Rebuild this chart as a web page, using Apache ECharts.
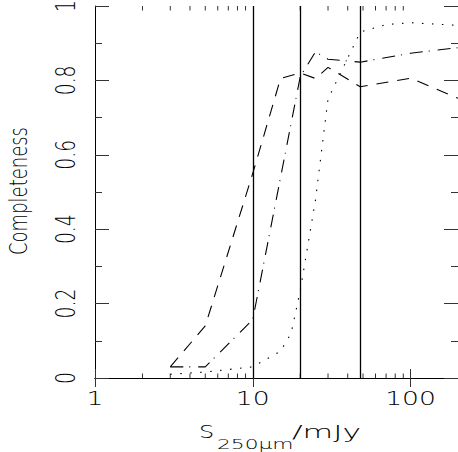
<!DOCTYPE html>
<html><head><meta charset="utf-8">
<script src="https://cdn.jsdelivr.net/npm/echarts@6/dist/echarts.min.js"></script>
<style>html,body{margin:0;padding:0;background:#fff}#c{width:458px;height:452px}</style>
</head><body><div id="c"></div>
<script>
// ---- data ----
const fluxDashed   = [3, 5, 10, 15, 20, 25, 30, 48, 100, 200];
const complDashed  = [0.03, 0.14, 0.55, 0.805, 0.82, 0.805, 0.835, 0.783, 0.806, 0.752];
const fluxDashDot  = [3, 5, 10, 20, 25, 30, 48, 100, 200];
const complDashDot = [0.03, 0.03, 0.157, 0.81, 0.877, 0.857, 0.849, 0.873, 0.888];
const fluxDotted   = [3, 5, 10, 15, 17.5, 20, 25, 30, 48, 70, 100, 200];
const complDotted  = [0.01, 0.016, 0.03, 0.072, 0.12, 0.235, 0.48, 0.75, 0.93, 0.95, 0.955, 0.948];
const limitLines   = [10, 20, 48];
const xTickLabels  = [1, 10, 100];
const xMinorTicks  = [2, 3, 4, 5, 6, 7, 8, 9, 20, 30, 40, 50, 60, 70, 80, 90];
const yTickValues  = [0, 0.2, 0.4, 0.6, 0.8, 1];
const yTickLabels  = ['0', '0.2', '0.4', '0.6', '0.8', '1'];

const pair = (xs, ys) => xs.map((x, i) => [x, ys[i]]);
const tickCol = '#333';
const FONT = 'DejaVu Sans';
const chart = echarts.init(document.getElementById('c'), null, {renderer: 'svg'});

const xAxisBase = (pos) => ({
  type: 'log', logBase: 10, min: 1, max: 200, position: pos,
  axisLine: {show: true, lineStyle: {color: '#000', width: 1}},
  axisTick: {show: true, inside: true, length: 9, lineStyle: {color: tickCol, width: 1}},
  minorTick: {show: false},
  axisLabel: {show: false}, splitLine: {show: false}
});
const yAxisBase = (pos) => ({
  type: 'value', min: 0, max: 1, interval: 0.2, position: pos,
  axisLine: {show: pos === 'left', lineStyle: {color: '#000', width: 1}},
  axisTick: {show: true, inside: true, length: 14, lineStyle: {color: tickCol, width: 1}},
  minorTick: {show: true, splitNumber: 2, length: 7, lineStyle: {color: tickCol, width: 1}},
  axisLabel: {show: false}, splitLine: {show: false}
});

const lineSeries = (name, xs, ys, dash) => ({
  name, type: 'line', xAxisIndex: 0, yAxisIndex: 0, data: pair(xs, ys),
  symbol: 'none', showSymbol: false, silent: true, animation: false,
  lineStyle: {color: '#000', width: 1.1, type: dash}
});

const s1 = lineSeries('dashed', fluxDashed, complDashed, [12, 9]);
s1.markLine = {
  silent: true, symbol: ['none', 'none'], animation: false,
  label: {show: false},
  lineStyle: {color: '#000', type: 'solid', width: 1.3},
  data: limitLines.map(v => ({xAxis: v}))
};

const option = {
  animation: false,
  grid: {left: 95, top: 6, right: -1, bottom: 74},
  xAxis: [xAxisBase('bottom'), xAxisBase('top')],
  yAxis: [yAxisBase('left'), yAxisBase('right')],
  series: [
    s1,
    lineSeries('dashdot', fluxDashDot, complDashDot, [13, 6, 1, 8]),
    lineSeries('dotted', fluxDotted, complDotted, [1.5, 8.5]),
    {
      type: 'custom', name: 'minorTicks', xAxisIndex: 0, yAxisIndex: 0, silent: true,
      data: xMinorTicks.map(v => [v, 0]),
      renderItem: (params, api) => {
        const x = api.value(0);
        const b = api.coord([x, 0]);
        const t = api.coord([x, 1]);
        const st = {stroke: tickCol, lineWidth: 1};
        return {type: 'group', children: [
          {type: 'line', shape: {x1: b[0], y1: b[1], x2: b[0], y2: b[1] - 4.5}, style: st},
          {type: 'line', shape: {x1: t[0], y1: t[1], x2: t[0], y2: t[1] + 4.5}, style: st}
        ]};
      }
    },
    {
      type: 'custom', name: 'xLabels', xAxisIndex: 0, yAxisIndex: 0, silent: true, clip: false,
      data: xTickLabels.map(v => [v, 0]),
      renderItem: (params, api) => {
        const p = api.coord([api.value(0), 0]);
        return {type: 'text', x: p[0], y: p[1] + 11, scaleX: 1.4,
          style: {text: String(xTickLabels[params.dataIndex]), fontSize: 19,
            fontFamily: FONT, fontWeight: 200, fill: '#000',
            align: 'center', verticalAlign: 'top'}};
      }
    },
    {
      type: 'custom', name: 'yLabels', xAxisIndex: 0, yAxisIndex: 0, silent: true, clip: false,
      data: yTickValues.map(v => [1, v]),
      renderItem: (params, api) => {
        const p = api.coord([1, api.value(1)]);
        return {type: 'text', x: p[0] - 29, y: p[1], rotation: Math.PI / 2, scaleX: 0.72,
          style: {text: yTickLabels[params.dataIndex], fontSize: 26,
            fontFamily: FONT, fontWeight: 200, fill: '#000',
            align: 'center', verticalAlign: 'middle'}};
      }
    }
  ],
  graphic: [
    {type: 'text', x: 19, y: 191, rotation: Math.PI / 2, scaleX: 0.75, silent: true,
      style: {text: 'Completeness', fontSize: 24, fontFamily: FONT, fontWeight: 200, fill: '#000', align: 'center', verticalAlign: 'middle'}},
    {type: 'text', x: 199, y: 441, scaleX: 1.3, silent: true,
      style: {text: 'S', fontSize: 18.5, fontFamily: FONT, fontWeight: 200, fill: '#000', align: 'left', verticalAlign: 'bottom'}},
    {type: 'text', x: 217, y: 451, scaleX: 1.5, silent: true,
      style: {text: '250μm', fontSize: 14.5, fontFamily: FONT, fontWeight: 200, fill: '#000', align: 'left', verticalAlign: 'bottom'}},
    {type: 'text', x: 292, y: 441, scaleX: 1.85, silent: true,
      style: {text: '/mJy', fontSize: 17, fontFamily: FONT, fontWeight: 200, fill: '#000', align: 'left', verticalAlign: 'bottom'}}
  ]
};
chart.setOption(option);
</script>
</body></html>
